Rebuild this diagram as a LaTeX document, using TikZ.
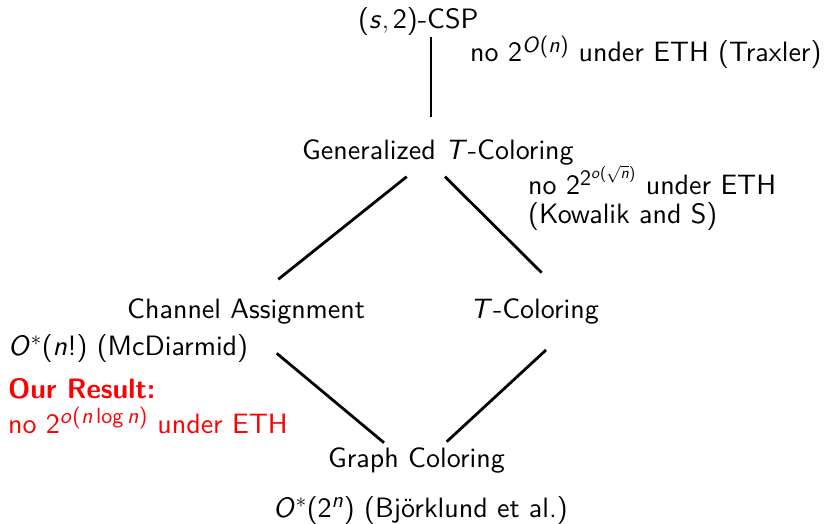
\documentclass[tikz,border=0pt]{standalone}
\usetikzlibrary{calc}
\usepackage[no-math]{fontspec}
% Latin Modern Sans in its 10pt design, used at every size
\setmainfont{lmsans10-regular.otf}[
  BoldFont=lmsans10-bold.otf,
  ItalicFont=lmsans10-oblique.otf,
  BoldItalicFont=lmsans10-boldoblique.otf]
% sans-serif math: digits, brackets and \log from cmss10, letters from cmssi10
\DeclareFontFamily{OT1}{sften}{}
\DeclareFontShape{OT1}{sften}{m}{n}{<-> cmss10}{}
\DeclareFontShape{OT1}{sften}{m}{sl}{<-> cmssi10}{}
\DeclareSymbolFont{operators}{OT1}{sften}{m}{n}
\DeclareSymbolFont{sfletters}{OT1}{sften}{m}{sl}
\newcommand{\sfmathletter}[1]{\DeclareMathSymbol{#1}{\mathalpha}{sfletters}{`#1}}
\sfmathletter{s}\sfmathletter{n}\sfmathletter{O}\sfmathletter{o}\sfmathletter{T}
\DeclareMathSizes{28}{28}{22}{16}
\begin{document}
\begin{tikzpicture}[x=1pt,y=-1pt,
  lbl/.style={inner sep=0pt,anchor=base west,font=\fontsize{28}{34}\selectfont},
  edge/.style={line width=2.8pt}]
\useasboundingbox (0,0) rectangle (836,524);
% problems
\node[lbl] (csp) at (358,29) {$(s,2)$-CSP};
\node[lbl] (gtc) at (302,160) {Generalized $T$-Coloring};
\node[lbl] (ca)  at (127,318) {Channel Assignment};
\node[lbl] (tc)  at (470,318) {$T$-Coloring};
\node[lbl] (gc)  at (328,467) {Graph Coloring};
% known bounds
\node[lbl] (cspnote) at (470,62) {no $2^{O(n)}$ under ETH (Traxler)};
\node[lbl] (gtcnote) at (528,195) {no $2^{2^{o(\sqrt{n})}}$ under ETH};
\node[lbl] (gtccite) at (528,223) {(Kowalik and S)};
\node[lbl] (canote) at (8,355) {$O^*(n!)$ (McDiarmid)};
\node[lbl,text=red,font=\fontsize{28}{34}\selectfont\bfseries] (ours) at (8,398) {Our Result:};
\node[lbl,text=red] (ournote) at (8,433) {no $2^{o(n\log n)}$ under ETH};
\node[lbl] (gcnote) at (273,517) {$O^*(2^n)$ (Bj\"orklund et al.)};
% reductions
\draw[edge] ($(csp.base west)+(73,8)$) -- ($(gtc.base west)+(129,-43)$);
\draw[edge] ($(gtc.base west)+(104.7,16.7)$) -- ($(ca.base west)+(151.3,-38.7)$);
\draw[edge] ($(gtc.base west)+(143,16.7)$) -- ($(tc.base west)+(71.7,-45.3)$);
\draw[edge] ($(ca.base west)+(149.7,35.3)$) -- ($(gc.base west)+(56,-24.3)$);
\draw[edge] ($(tc.base west)+(76,32)$) -- ($(gc.base west)+(118.7,-25.3)$);
\end{tikzpicture}
\end{document}
